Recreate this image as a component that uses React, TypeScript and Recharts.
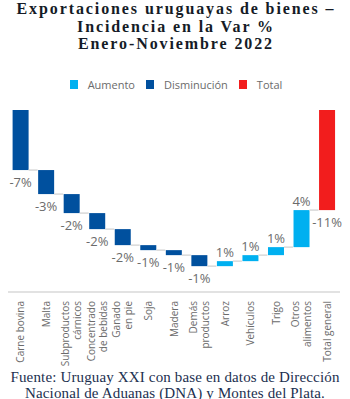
import React from "react";
import { BarChart, Bar, XAxis, YAxis, Cell, LabelList } from "recharts";

const titleLines = [
  "Exportaciones uruguayas de bienes –",
  "Incidencia en la Var %",
  "Enero-Noviembre 2022",
];
const footerLines = [
  "Fuente: Uruguay XXI con base en datos de Dirección",
  "Nacional de Aduanas (DNA) y Montes del Plata.",
];

const categories = [
  "Carne bovina",
  "Malta",
  "Subproductos cárnicos",
  "Concentrado de bebidas",
  "Ganado en pie",
  "Soja",
  "Madera",
  "Demás productos",
  "Arroz",
  "Vehículos",
  "Trigo",
  "Otros alimentos",
  "Total general",
];
const tickLines: string[][] = [
  ["Carne bovina"],
  ["Malta"],
  ["Subproductos", "cárnicos"],
  ["Concentrado", "de bebidas"],
  ["Ganado", "en pie"],
  ["Soja"],
  ["Madera"],
  ["Demás", "productos"],
  ["Arroz"],
  ["Vehículos"],
  ["Trigo"],
  ["Otros", "alimentos"],
  ["Total general"],
];
// incidence in percentage points
const changes = [-6.6, -2.64, -2.09, -1.76, -1.76, -0.55, -0.55, -1.21, 0.55, 0.66, 0.88, 4.07];
const totalValue = -11.0;
const valueLabels = ["-7%", "-3%", "-2%", "-2%", "-2%", "-1%", "-1%", "-1%", "1%", "1%", "1%", "4%", "-11%"];

const legendNames = ["Aumento", "Disminución", "Total"];
const legendColors = ["#00b0f0", "#00509e", "#f21d1d"];

const GAP_PCT = 0.18;

type Row = { name: string; range: [number, number]; kind: number; end: number; label: string };

const rows: Row[] = (() => {
  const out: Row[] = [];
  let cum = 0;
  changes.forEach((d, i) => {
    const next = cum + d;
    out.push({
      name: categories[i],
      range: [Math.min(cum, next), Math.max(cum, next)],
      kind: d >= 0 ? 0 : 1,
      end: next,
      label: valueLabels[i],
    });
    cum = next;
  });
  out.push({
    name: categories[categories.length - 1],
    range: [totalValue, 0],
    kind: 2,
    end: totalValue,
    label: valueLabels[valueLabels.length - 1],
  });
  return out;
})();

const WaterShape = (props: any) => {
  const { x, y, width, height, fill, index } = props;
  const row = rows[index];
  const isLast = index === rows.length - 1;
  const gap = (width * 2 * GAP_PCT) / (1 - 2 * GAP_PCT);
  const lineY = row.kind === 0 ? y : y + height;
  return (
    <g>
      <rect x={x} y={y} width={width} height={height} fill={fill} />
      {!isLast && (
        <line x1={x + width} x2={x + width + gap} y1={lineY} y2={lineY} stroke="#d9d9d9" strokeWidth={1.5} />
      )}
    </g>
  );
};

const ValueLabel = (props: any) => {
  const { x, y, width, height, index } = props;
  const row = rows[index];
  const cx = x + width / 2;
  const isUp = row.kind === 0;
  const ty = isUp ? y - 4 : y + height + 17;
  return (
    <text x={cx} y={ty} textAnchor="middle" fontSize={13} fill="#6b6b6b" fontFamily="'Open Sans', sans-serif">
      {row.label}
    </text>
  );
};

const Tick = (props: any) => {
  const { x, y, index } = props;
  const lines = tickLines[index] || [];
  const n = lines.length;
  return (
    <g transform={`translate(${x},${y + 9})`}>
      {lines.map((l, i) => (
        <text
          key={i}
          transform="rotate(-90)"
          x={0}
          y={3.5 + (i - (n - 1) / 2) * 12}
          textAnchor="end"
          fontSize={10}
          fill="#6b6b6b"
          fontFamily="'Open Sans', sans-serif"
        >
          {l}
        </text>
      ))}
    </g>
  );
};

export default function App() {
  return (
    <div style={{ position: "absolute", left: 0, top: 0, width: 350, height: 399, background: "#fff", overflow: "hidden" }}>
      <div
        style={{
          position: "absolute",
          top: 0,
          left: 0,
          width: 352,
          textAlign: "center",
          fontFamily: "'Liberation Serif', serif",
          fontWeight: "bold",
          fontSize: 16,
          letterSpacing: "1.9px",
          lineHeight: "17.5px",
          color: "#151b26",
        }}
      >
        {titleLines.map((t, i) => (
          <div key={i}>{t}</div>
        ))}
      </div>
      <div
        style={{
          position: "absolute",
          top: 77,
          left: 0,
          width: 352,
          display: "flex",
          justifyContent: "center",
          alignItems: "center",
          fontFamily: "'Open Sans', sans-serif",
          fontSize: 11,
          color: "#6b6b6b",
          gap: 11,
        }}
      >
        {legendNames.map((n, i) => (
          <div key={i} style={{ display: "flex", alignItems: "center" }}>
            <div style={{ width: 8, height: 9, background: legendColors[i], marginRight: 10 }} />
            <span>{n}</span>
          </div>
        ))}
      </div>
      <div style={{ position: "absolute", left: 0, top: 0 }}>
        <BarChart
          width={350}
          height={399}
          data={rows}
          margin={{ top: 110, right: 10, left: 8, bottom: 0 }}
          barCategoryGap={`${GAP_PCT * 100}%`}
        >
          <XAxis
            dataKey="name"
            interval={0}
            height={107}
            tickLine={false}
            tickSize={0}
            tickMargin={0}
            axisLine={{ stroke: "#d9d9d9", strokeWidth: 1.5 }}
            tick={<Tick />}
          />
          <YAxis hide domain={[-20, 0]} />
          <Bar dataKey="range" isAnimationActive={false} shape={<WaterShape />}>
            {rows.map((r, i) => (
              <Cell key={i} fill={legendColors[r.kind]} />
            ))}
            <LabelList dataKey="range" content={<ValueLabel />} />
          </Bar>
        </BarChart>
      </div>
      <div
        style={{
          position: "absolute",
          top: 369,
          left: 0,
          width: 350,
          textAlign: "center",
          fontFamily: "'Liberation Serif', serif",
          fontSize: 15,
          letterSpacing: "0.15px",
          lineHeight: "16px",
          color: "#1c2f4f",
        }}
      >
        {footerLines.map((t, i) => (
          <div key={i}>{t}</div>
        ))}
      </div>
    </div>
  );
}
